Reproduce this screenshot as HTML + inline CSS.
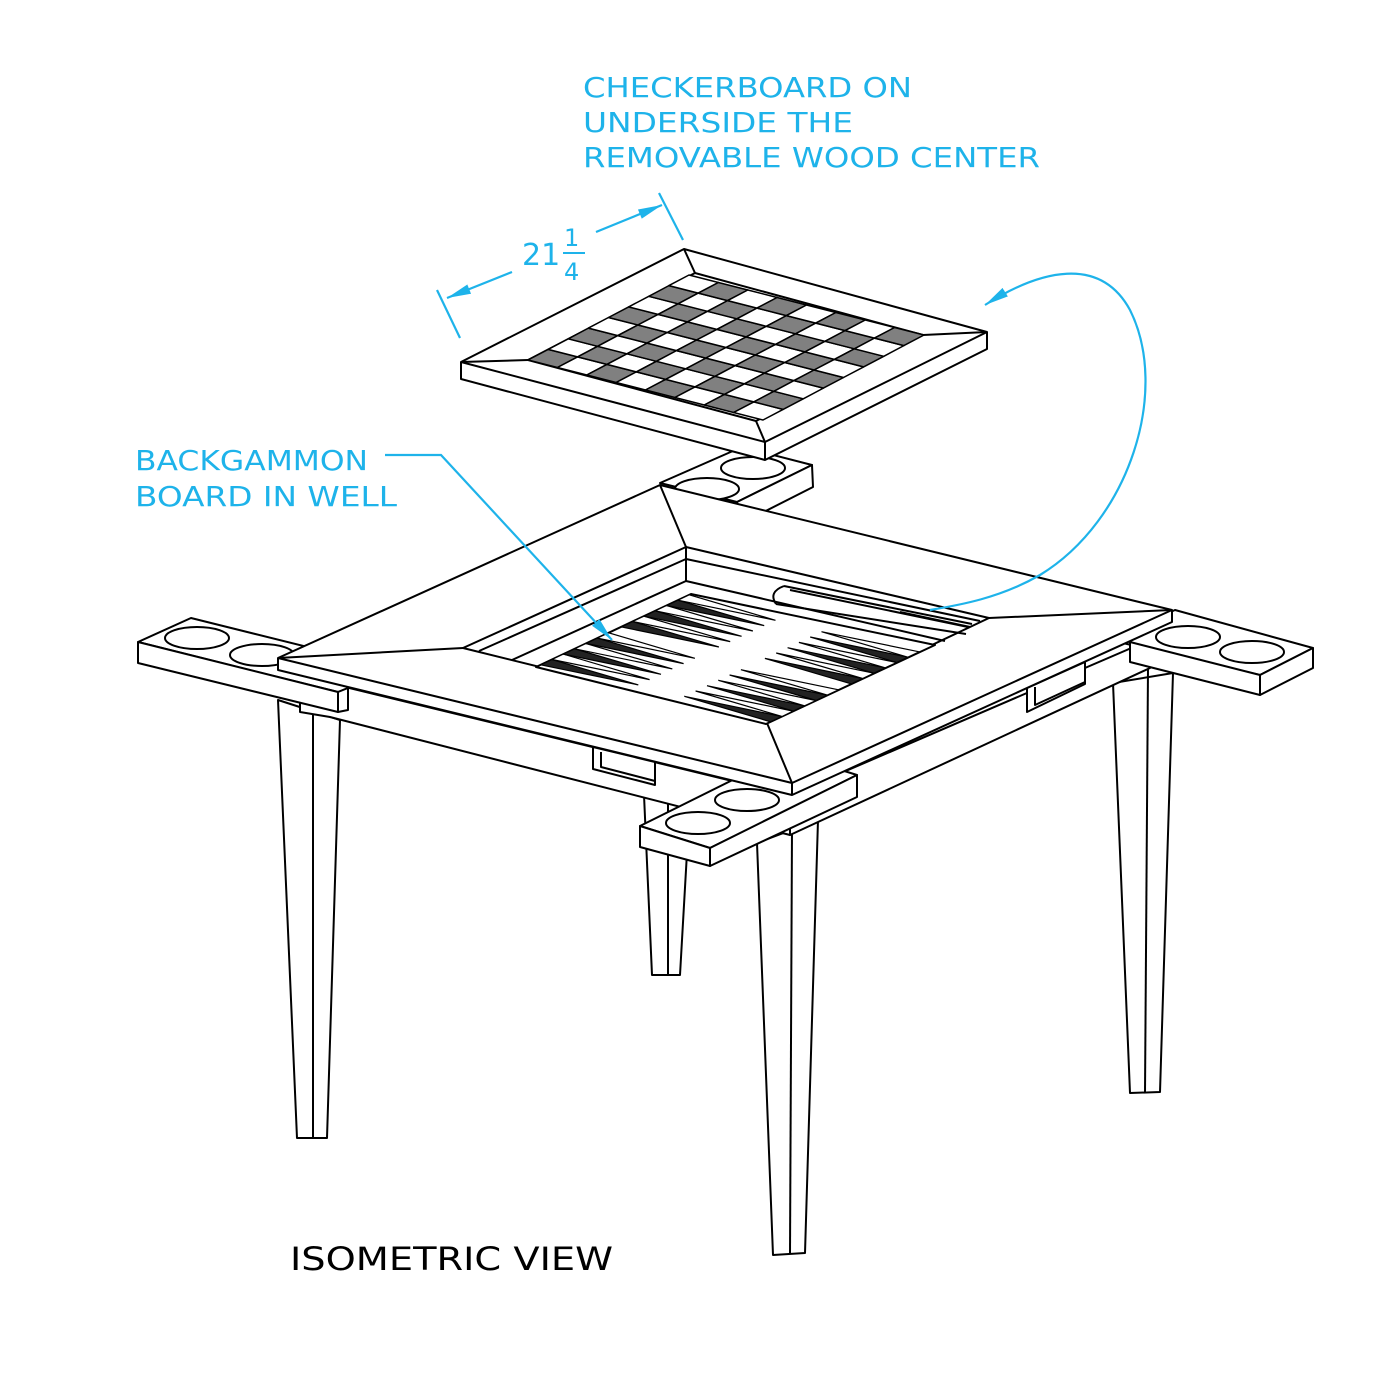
<!DOCTYPE html>
<html><head><meta charset="utf-8"><style>html,body{margin:0;padding:0;background:#fff}svg{display:block}</style></head>
<body>
<svg id="s" width="1400" height="1400" viewBox="0 0 1400 1400" xmlns="http://www.w3.org/2000/svg">
<defs>
<marker id="ar2" viewBox="0 0 10 10" refX="10" refY="5" markerWidth="24" markerHeight="10" markerUnits="userSpaceOnUse" orient="auto" preserveAspectRatio="none"><path d="M0,0 L10,5 L0,10 z" fill="#1eb3ea"/></marker>
</defs>
<rect width="1400" height="1400" fill="#fff"/>
<g fill="#fff" stroke="#000" stroke-width="2" stroke-linejoin="round">
<polygon points="278,700 340,720 327,1138 297,1138"/><line x1="313" y1="712" x2="313" y2="1138"/>
<polygon points="644,795 690,800 680,975 652,975"/><line x1="668" y1="798" x2="668" y2="975"/>
<polygon points="757,843 818,820 805,1253 773,1255"/><line x1="792" y1="828" x2="790" y2="1254"/>
<polygon points="1113,683 1173,673 1160,1092 1130,1093"/><line x1="1148" y1="668" x2="1145" y2="1093"/>
<polygon points="300,676 790,795 790,835 330,717 300,712"/>
<polygon points="593,747 655,762 655,785 593,769"/><polyline points="601,752 601,767 655,781" fill="none"/>
<polygon points="790,795 1150,640 1150,668 790,835"/>
<polygon points="1027,688 1085,662 1085,684 1027,712"/><polyline points="1035,687 1035,705 1085,682" fill="none"/>
<polygon points="138,642 191,618 400,670 348,688 338,692"/>
<polygon points="138,642 338,692 338,712 138,663"/>
<polygon points="338,692 348,688 348,710 338,712"/>
<ellipse cx="197" cy="638" rx="32" ry="11"/><ellipse cx="262" cy="655" rx="32" ry="11"/>
<polygon points="660,483 742,447 812,465 737,502"/>
<polygon points="737,502 812,465 813,487 740,524"/>
<ellipse cx="753" cy="468" rx="32" ry="11"/><ellipse cx="707" cy="489" rx="32" ry="11"/>
<polygon points="1110,640 1175,610 1313,648 1260,675"/>
<polygon points="1130,642 1260,675 1260,695 1130,662"/>
<polygon points="1260,675 1313,648 1313,668 1260,695"/>
<ellipse cx="1188" cy="637" rx="32" ry="11"/><ellipse cx="1252" cy="652" rx="32" ry="11"/>
<polygon points="640,826 787,753 857,775 710,848"/>
<polygon points="640,826 710,848 710,866 640,847"/>
<polygon points="710,848 857,775 857,797 710,866"/>
<ellipse cx="698" cy="823" rx="32" ry="11"/><ellipse cx="747" cy="800" rx="32" ry="11"/>
<polygon points="278,658 660,485 1172,610 1172,622 792,795 278,670"/>
<polyline points="278,658 792,783 1172,610" fill="none"/>
<line x1="792" y1="783" x2="792" y2="795"/>
<line x1="278" y1="658" x2="463" y2="648"/><line x1="660" y1="485" x2="686" y2="547"/>
<line x1="1172" y1="610" x2="989" y2="618"/><line x1="792" y1="783" x2="767" y2="723"/>
<polygon points="463,648 686,547 989,618 767,723"/>
<polyline points="479,651 686,559 980,621" fill="none"/>
<polyline points="512,660 686,581 945,641" fill="none"/>
<line x1="686" y1="547" x2="686" y2="581"/>
<polygon id="bd" points="536,667 691,594 935,645 766,724"/>
<path d="M784,586 L972,624 M776,604 L966,634 M784,586 Q768,592 776,604 M790,590 L968,627 M900,612 L970,627" fill="none"/>
</g>
<g id="spk" stroke="#000" stroke-width="1.2"></g>
<g id="chk" stroke="#000" stroke-width="2" stroke-linejoin="round">
<polygon points="461,362 684,249 987,332 987,349 765,460 461,379" fill="#fff"/>
<polyline points="461,362 765,442 987,332" fill="none"/>
<line x1="765" y1="442" x2="765" y2="460"/>
<polygon points="528,360 695,273 923,335 756,421" fill="#fff"/>
<line x1="461" y1="362" x2="528" y2="360"/><line x1="684" y1="249" x2="695" y2="273"/>
<line x1="987" y1="332" x2="923" y2="335"/><line x1="765" y1="442" x2="756" y2="421"/>
</g>
<g fill="none" stroke="#1eb3ea" stroke-width="2.2">
<line x1="437" y1="290" x2="460" y2="338"/><line x1="659" y1="193" x2="683" y2="240"/>
<line x1="512" y1="272" x2="447" y2="298" marker-end="url(#ar2)"/>
<line x1="596" y1="232" x2="662" y2="205" marker-end="url(#ar2)"/>
<polyline points="385,455 441,455 612,640" marker-end="url(#ar2)"/>
<path d="M930,610 C960,605 1000,598 1040,575 C1130,520 1170,390 1130,310 C1100,255 1040,270 985,305" marker-end="url(#ar2)"/>
</g>
<g font-family="DejaVu Sans, Liberation Sans, sans-serif" fill="#1eb3ea">
<text x="583" y="97" font-size="28" textLength="329" lengthAdjust="spacingAndGlyphs">CHECKERBOARD ON</text>
<text x="583" y="132" font-size="28" textLength="270" lengthAdjust="spacingAndGlyphs">UNDERSIDE THE</text>
<text x="583" y="167" font-size="28" textLength="457" lengthAdjust="spacingAndGlyphs">REMOVABLE WOOD CENTER</text>
<text x="135" y="470" font-size="28" textLength="233" lengthAdjust="spacingAndGlyphs">BACKGAMMON</text>
<text x="135" y="506" font-size="28" textLength="262" lengthAdjust="spacingAndGlyphs">BOARD IN WELL</text>
<text x="522" y="265" font-size="30">21</text>
<text x="564" y="246" font-size="24">1</text>
<line x1="563" y1="253" x2="585" y2="253" stroke="#1eb3ea" stroke-width="2"/>
<text x="564" y="280" font-size="24">4</text>
</g>
<text x="290" y="1270" font-family="DejaVu Sans, Liberation Sans, sans-serif" font-size="32" fill="#000" textLength="323" lengthAdjust="spacingAndGlyphs">ISOMETRIC VIEW</text>
</svg>
<script>
(function(){
var NS="http://www.w3.org/2000/svg";
function poly(g,pts,fill,sw){var p=document.createElementNS(NS,"polygon");p.setAttribute("points",pts.map(function(a){return a[0].toFixed(1)+","+a[1].toFixed(1)}).join(" "));p.setAttribute("fill",fill);if(sw)p.setAttribute("stroke-width",sw);g.appendChild(p);}
var g=document.getElementById("chk");
var L=[528,360],T=[689,275],B=[763,420];
function P(u,v){return [L[0]+u*(T[0]-L[0])+v*(B[0]-L[0]),L[1]+u*(T[1]-L[1])+v*(B[1]-L[1])];}
for(var i=0;i<8;i++)for(var j=0;j<8;j++){
 var u0=i/8,u1=(i+1)/8,v0=j/8,v1=(j+1)/8;
 poly(g,[P(u0,v0),P(u1,v0),P(u1,v1),P(u0,v1)],((i+j)%2==0)?"#808080":"#fff","1.5");
}
var s=document.getElementById("spk");
var BL=[536,667],BT=[691,594],BB=[766,724];
function Q(u,v){return [BL[0]+u*(BT[0]-BL[0])+v*(BB[0]-BL[0]),BL[1]+u*(BT[1]-BL[1])+v*(BB[1]-BL[1])];}
var w=0.95/13;
for(var side=0;side<2;side++){
 for(var k=0;k<12;k++){
  var start=(k<6)?0.03+k*w:0.55+(k-6)*w;
  var c=start+w/2;
  var t0=side?1:0,t1=side?0.6:0.4;
  poly(s,[Q(start,t0),Q(start+w,t0),Q(c,t1)],(k%2==0)?"#222":"#fff");
 }
}
})();
</script>
</body></html>
